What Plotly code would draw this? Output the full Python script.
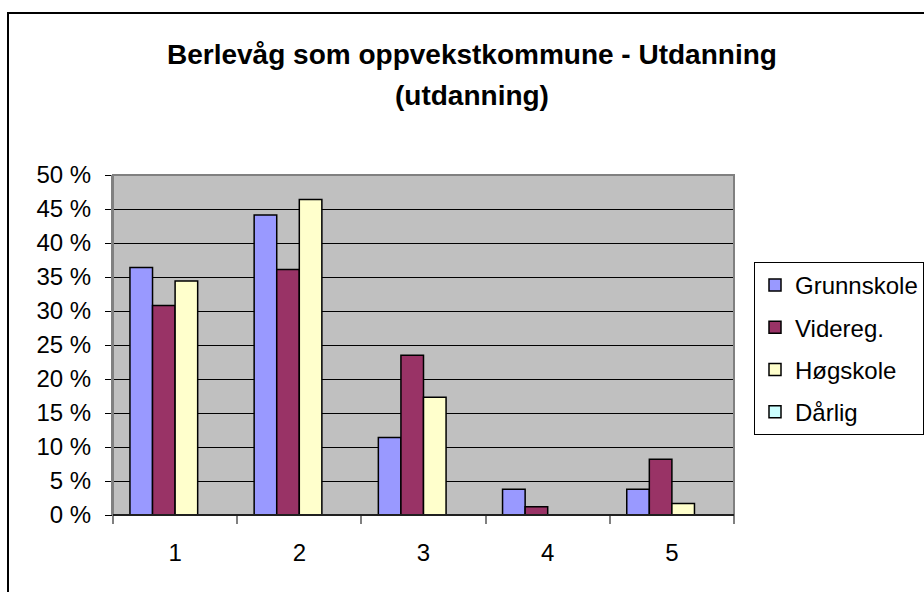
import plotly.graph_objects as go

categories = ["1", "2", "3", "4", "5"]
grunnskole = [36.4, 44.1, 11.4, 3.8, 3.8]
videreg = [30.8, 36.1, 23.5, 1.2, 8.2]
hogskole = [34.4, 46.4, 17.3, 0, 1.7]
darlig = [0, 0, 0, 0, 0]
series_names = ["Grunnskole", "Videreg.", "Høgskole", "Dårlig"]
series_colors = ["#9999FF", "#993366", "#FFFFCC", "#CCFFFF"]
ytick_vals = [0, 5, 10, 15, 20, 25, 30, 35, 40, 45, 50]
ytick_text = [f"{v} %" for v in ytick_vals]

FONT = "Liberation Sans, Arial, sans-serif"

fig = go.Figure()
for name, vals, col in zip(series_names, [grunnskole, videreg, hogskole, darlig], series_colors):
    fig.add_trace(go.Bar(
        x=categories, y=vals, name=name, legendgroup=name,
        marker=dict(color=col, line=dict(color="black", width=1.5)),
    ))

fig.update_layout(
    width=924, height=592,
    margin=dict(l=113, r=190, t=175, b=77, autoexpand=False),
    paper_bgcolor="white",
    plot_bgcolor="#C0C0C0",
    barmode="group", bargap=0.273, bargroupgap=0,
    font=dict(family=FONT, size=23, color="black"),
    showlegend=True,
    legend=dict(
        x=(754 - 113) / 621, xanchor="left", y=(515 - 262) / 340, yanchor="top",
        bordercolor="black", borderwidth=1, bgcolor="white",
        font=dict(size=24), traceorder="grouped", tracegroupgap=8,
        itemwidth=30,
    ),
    xaxis=dict(
        type="category", showgrid=False, tickson="boundaries",
        ticks="outside", ticklen=8, tickcolor="#808080", tickwidth=2,
        showline=True, linecolor="black", linewidth=1,
        tickfont=dict(size=24), ticklabelstandoff=16,
    ),
    yaxis=dict(
        range=[0, 50], tickvals=ytick_vals, ticktext=ytick_text,
        showgrid=True, gridcolor="black", gridwidth=1,
        ticks="outside", ticklen=6, tickcolor="black",
        showline=True, linecolor="#808080", linewidth=2,
        zeroline=False, tickfont=dict(size=24), ticklabelstandoff=9,
    ),
    annotations=[
        dict(text="<b>Berlevåg som oppvekstkommune - Utdanning</b>", xref="paper", yref="paper",
             x=(471.5 - 113) / 621, y=(515 - 55) / 340, xanchor="center", yanchor="middle",
             showarrow=False, font=dict(size=28)),
        dict(text="<b>(utdanning)</b>", xref="paper", yref="paper",
             x=(471.5 - 113) / 621, y=(515 - 96) / 340, xanchor="center", yanchor="middle",
             showarrow=False, font=dict(size=28)),
    ],
    shapes=[
        dict(type="rect", xref="paper", yref="paper", x0=0, x1=1, y0=0, y1=1,
             line=dict(color="#808080", width=2), layer="above"),
        dict(type="line", xref="paper", yref="paper", x0=0, x1=1, y0=0, y1=0,
             line=dict(color="black", width=1.5), layer="above"),
        dict(type="rect", xref="paper", yref="paper",
             x0=(8 - 113) / 621, x1=(940 - 113) / 621,
             y0=(515 - 620) / 340, y1=(515 - 13) / 340,
             line=dict(color="black", width=2), layer="above"),
    ],
)

fig.write_html("out.html", config={"displayModeBar": False},
               post_script="document.body.style.margin='0';")
